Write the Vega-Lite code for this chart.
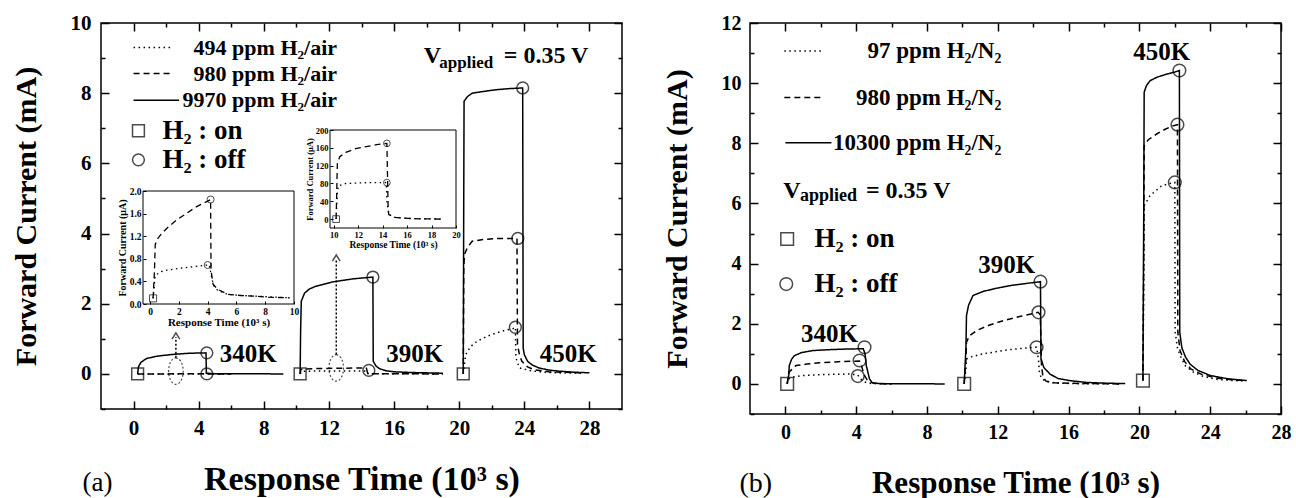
{
"$schema": "https://vega.github.io/schema/vega-lite/v6.json",
"padding": {"left": 10, "top": 11, "right": 5, "bottom": 2},
"spacing": 37,
"config": {
  "font": "Liberation Serif",
  "view": {"stroke": "black", "strokeWidth": 1.5},
  "axis": {"grid": false, "domainColor": "black", "domainWidth": 1.5, "tickColor": "black", "tickWidth": 1.5, "labelColor": "black", "titleColor": "black", "labelFont": "Liberation Serif", "titleFont": "Liberation Serif", "labelFontWeight": "bold", "titleFontWeight": "bold", "labelFlush": false, "labelOverlap": false},
  "text": {"font": "Liberation Serif", "fontWeight": "bold", "color": "black"}
},
"datasets": {
  "la": [
    {"s":"a340s","c":"solid","x":0.25,"y":0},{"s":"a340s","c":"solid","x":0.3,"y":0.2},{"s":"a340s","c":"solid","x":0.45,"y":0.33},{"s":"a340s","c":"solid","x":0.8,"y":0.44},{"s":"a340s","c":"solid","x":1.5,"y":0.51},{"s":"a340s","c":"solid","x":2.5,"y":0.56},{"s":"a340s","c":"solid","x":3.5,"y":0.59},{"s":"a340s","c":"solid","x":4.45,"y":0.6},{"s":"a340s","c":"solid","x":4.47,"y":0.02},{"s":"a340s","c":"solid","x":5,"y":0.005},{"s":"a340s","c":"solid","x":9.2,"y":0},
    {"s":"a340d","c":"dash","x":0.25,"y":0},{"s":"a340d","c":"dash","x":4.45,"y":0.002},{"s":"a340d","c":"dash","x":4.47,"y":0},{"s":"a340d","c":"dash","x":6,"y":0},
    {"s":"a340o","c":"dot","x":0.25,"y":0},{"s":"a340o","c":"dot","x":4.45,"y":0.001},{"s":"a340o","c":"dot","x":4.47,"y":0},{"s":"a340o","c":"dot","x":6,"y":0},
    {"s":"a390s","c":"solid","x":10.23,"y":0},{"s":"a390s","c":"solid","x":10.26,"y":1.2},{"s":"a390s","c":"solid","x":10.3,"y":2.07},{"s":"a390s","c":"solid","x":10.5,"y":2.3},{"s":"a390s","c":"solid","x":10.8,"y":2.42},{"s":"a390s","c":"solid","x":11.2,"y":2.5},{"s":"a390s","c":"solid","x":12.2,"y":2.62},{"s":"a390s","c":"solid","x":13.5,"y":2.71},{"s":"a390s","c":"solid","x":14.7,"y":2.76},{"s":"a390s","c":"solid","x":14.72,"y":0.36},{"s":"a390s","c":"solid","x":14.9,"y":0.22},{"s":"a390s","c":"solid","x":15.1,"y":0.15},{"s":"a390s","c":"solid","x":15.5,"y":0.09},{"s":"a390s","c":"solid","x":16,"y":0.06},{"s":"a390s","c":"solid","x":17,"y":0.04},{"s":"a390s","c":"solid","x":19,"y":0.02},
    {"s":"a390d","c":"dash","x":10.23,"y":0},{"s":"a390d","c":"dash","x":10.28,"y":0.13},{"s":"a390d","c":"dash","x":10.5,"y":0.14},{"s":"a390d","c":"dash","x":11,"y":0.15},{"s":"a390d","c":"dash","x":12.5,"y":0.16},{"s":"a390d","c":"dash","x":14.3,"y":0.17},{"s":"a390d","c":"dash","x":14.38,"y":0.01},{"s":"a390d","c":"dash","x":15,"y":0.004},{"s":"a390d","c":"dash","x":19,"y":0},
    {"s":"a390o","c":"dot","x":10.23,"y":0},{"s":"a390o","c":"dot","x":10.35,"y":0.075},{"s":"a390o","c":"dot","x":11,"y":0.08},{"s":"a390o","c":"dot","x":14.2,"y":0.082},{"s":"a390o","c":"dot","x":14.3,"y":0.01},{"s":"a390o","c":"dot","x":15,"y":0.004},{"s":"a390o","c":"dot","x":19,"y":0},
    {"s":"a450s","c":"solid","x":20.25,"y":0},{"s":"a450s","c":"solid","x":20.28,"y":5},{"s":"a450s","c":"solid","x":20.3,"y":7.77},{"s":"a450s","c":"solid","x":20.5,"y":7.9},{"s":"a450s","c":"solid","x":20.8,"y":8.0},{"s":"a450s","c":"solid","x":21.5,"y":8.05},{"s":"a450s","c":"solid","x":22.3,"y":8.1},{"s":"a450s","c":"solid","x":23.1,"y":8.13},{"s":"a450s","c":"solid","x":23.9,"y":8.15},{"s":"a450s","c":"solid","x":23.93,"y":0.74},{"s":"a450s","c":"solid","x":24.0,"y":0.55},{"s":"a450s","c":"solid","x":24.2,"y":0.36},{"s":"a450s","c":"solid","x":24.5,"y":0.25},{"s":"a450s","c":"solid","x":24.9,"y":0.17},{"s":"a450s","c":"solid","x":25.5,"y":0.11},{"s":"a450s","c":"solid","x":26.1,"y":0.08},{"s":"a450s","c":"solid","x":27,"y":0.05},{"s":"a450s","c":"solid","x":28,"y":0.03},
    {"s":"a450d","c":"dash","x":20.25,"y":0},{"s":"a450d","c":"dash","x":20.28,"y":3.0},{"s":"a450d","c":"dash","x":20.32,"y":3.4},{"s":"a450d","c":"dash","x":20.5,"y":3.6},{"s":"a450d","c":"dash","x":20.8,"y":3.78},{"s":"a450d","c":"dash","x":21.5,"y":3.83},{"s":"a450d","c":"dash","x":22.3,"y":3.86},{"s":"a450d","c":"dash","x":23.0,"y":3.86},{"s":"a450d","c":"dash","x":23.55,"y":3.86},{"s":"a450d","c":"dash","x":23.58,"y":0.84},{"s":"a450d","c":"dash","x":23.7,"y":0.55},{"s":"a450d","c":"dash","x":23.85,"y":0.36},{"s":"a450d","c":"dash","x":24.2,"y":0.2},{"s":"a450d","c":"dash","x":24.6,"y":0.12},{"s":"a450d","c":"dash","x":25.5,"y":0.06},{"s":"a450d","c":"dash","x":27.4,"y":0.03},
    {"s":"a450o","c":"dot","x":20.25,"y":0},{"s":"a450o","c":"dot","x":20.4,"y":0.55},{"s":"a450o","c":"dot","x":20.7,"y":0.78},{"s":"a450o","c":"dot","x":21.1,"y":0.93},{"s":"a450o","c":"dot","x":21.7,"y":1.07},{"s":"a450o","c":"dot","x":22.3,"y":1.17},{"s":"a450o","c":"dot","x":22.8,"y":1.24},{"s":"a450o","c":"dot","x":23.3,"y":1.29},{"s":"a450o","c":"dot","x":23.45,"y":1.33},{"s":"a450o","c":"dot","x":23.48,"y":0.46},{"s":"a450o","c":"dot","x":23.7,"y":0.17},{"s":"a450o","c":"dot","x":24.3,"y":0.1},{"s":"a450o","c":"dot","x":24.9,"y":0.06},{"s":"a450o","c":"dot","x":26,"y":0.03},{"s":"a450o","c":"dot","x":27.5,"y":0.02}
  ],
  "ma": [
    {"k":"on","x":0.25,"y":0},{"k":"on","x":10.23,"y":0},{"k":"on","x":20.25,"y":0},
    {"k":"off","x":4.5,"y":0.6},{"k":"off","x":4.5,"y":0},{"k":"off","x":14.7,"y":2.76},{"k":"off","x":14.45,"y":0.1},{"k":"off","x":23.9,"y":8.15},{"k":"off","x":23.6,"y":3.86},{"k":"off","x":23.45,"y":1.33},
    {"k":"on","x":0.3,"y":6.93},{"k":"off","x":0.3,"y":6.1}
  ],
  "i1": [
    {"s":"d","c":"dash","x":0.2,"y":0.1},{"s":"d","c":"dash","x":0.3,"y":0.6},{"s":"d","c":"dash","x":0.35,"y":1.05},{"s":"d","c":"dash","x":0.5,"y":1.15},{"s":"d","c":"dash","x":0.8,"y":1.25},{"s":"d","c":"dash","x":1.2,"y":1.35},{"s":"d","c":"dash","x":1.8,"y":1.48},{"s":"d","c":"dash","x":2.5,"y":1.6},{"s":"d","c":"dash","x":3.2,"y":1.72},{"s":"d","c":"dash","x":4.0,"y":1.82},{"s":"d","c":"dash","x":4.2,"y":1.85},{"s":"d","c":"dash","x":4.23,"y":0.6},{"s":"d","c":"dash","x":4.37,"y":0.35},{"s":"d","c":"dash","x":4.7,"y":0.26},{"s":"d","c":"dash","x":5.4,"y":0.17},{"s":"d","c":"dash","x":6.35,"y":0.15},{"s":"d","c":"dash","x":7.2,"y":0.14},{"s":"d","c":"dash","x":8.2,"y":0.12},{"s":"d","c":"dash","x":9.7,"y":0.11},
    {"s":"o","c":"dot","x":0.2,"y":0.1},{"s":"o","c":"dot","x":0.28,"y":0.3},{"s":"o","c":"dot","x":0.35,"y":0.5},{"s":"o","c":"dot","x":0.7,"y":0.57},{"s":"o","c":"dot","x":1.2,"y":0.6},{"s":"o","c":"dot","x":2.0,"y":0.63},{"s":"o","c":"dot","x":3.0,"y":0.66},{"s":"o","c":"dot","x":4.0,"y":0.69},{"s":"o","c":"dot","x":4.1,"y":0.7},{"s":"o","c":"dot","x":4.25,"y":0.5},{"s":"o","c":"dot","x":4.4,"y":0.33},{"s":"o","c":"dot","x":4.7,"y":0.24},{"s":"o","c":"dot","x":5.4,"y":0.17},{"s":"o","c":"dot","x":6.4,"y":0.15},{"s":"o","c":"dot","x":8,"y":0.13},{"s":"o","c":"dot","x":9.7,"y":0.11}
  ],
  "m1": [{"k":"on","x":0.2,"y":0.1},{"k":"off","x":4.2,"y":1.85},{"k":"off","x":4.0,"y":0.69}],
  "i2": [
    {"s":"d","c":"dash","x":10.2,"y":0},{"s":"d","c":"dash","x":10.25,"y":60},{"s":"d","c":"dash","x":10.3,"y":125},{"s":"d","c":"dash","x":10.5,"y":140},{"s":"d","c":"dash","x":11,"y":150},{"s":"d","c":"dash","x":11.8,"y":158},{"s":"d","c":"dash","x":12.5,"y":162},{"s":"d","c":"dash","x":13.5,"y":167},{"s":"d","c":"dash","x":14.35,"y":170},{"s":"d","c":"dash","x":14.4,"y":100},{"s":"d","c":"dash","x":14.45,"y":30},{"s":"d","c":"dash","x":14.5,"y":10},{"s":"d","c":"dash","x":14.8,"y":7},{"s":"d","c":"dash","x":15.0,"y":4},{"s":"d","c":"dash","x":15.5,"y":2.5},{"s":"d","c":"dash","x":16.1,"y":1.5},{"s":"d","c":"dash","x":17,"y":0.5},{"s":"d","c":"dash","x":19,"y":0},
    {"s":"o","c":"dot","x":10.2,"y":0},{"s":"o","c":"dot","x":10.3,"y":60},{"s":"o","c":"dot","x":10.4,"y":75},{"s":"o","c":"dot","x":11,"y":80},{"s":"o","c":"dot","x":12,"y":81},{"s":"o","c":"dot","x":13,"y":82},{"s":"o","c":"dot","x":14.3,"y":82},{"s":"o","c":"dot","x":14.35,"y":40},{"s":"o","c":"dot","x":14.5,"y":10},{"s":"o","c":"dot","x":15,"y":4},{"s":"o","c":"dot","x":16,"y":1.5},{"s":"o","c":"dot","x":19,"y":0}
  ],
  "m2": [{"k":"on","x":10.2,"y":0},{"k":"off","x":14.35,"y":170},{"k":"off","x":14.35,"y":82}],
  "lb": [
    {"s":"b340s","c":"solid","x":0.1,"y":0},{"s":"b340s","c":"solid","x":0.19,"y":0.3},{"s":"b340s","c":"solid","x":0.22,"y":0.61},{"s":"b340s","c":"solid","x":0.35,"y":0.82},{"s":"b340s","c":"solid","x":0.51,"y":0.94},{"s":"b340s","c":"solid","x":0.9,"y":1.04},{"s":"b340s","c":"solid","x":1.55,"y":1.11},{"s":"b340s","c":"solid","x":2.5,"y":1.14},{"s":"b340s","c":"solid","x":3.5,"y":1.16},{"s":"b340s","c":"solid","x":4.4,"y":1.17},{"s":"b340s","c":"solid","x":4.5,"y":1.0},{"s":"b340s","c":"solid","x":4.57,"y":0.61},{"s":"b340s","c":"solid","x":4.75,"y":0.17},{"s":"b340s","c":"solid","x":4.9,"y":0.04},{"s":"b340s","c":"solid","x":5.3,"y":0.01},{"s":"b340s","c":"solid","x":9.0,"y":0},
    {"s":"b340d","c":"dash","x":0.1,"y":0},{"s":"b340d","c":"dash","x":0.2,"y":0.39},{"s":"b340d","c":"dash","x":0.6,"y":0.61},{"s":"b340d","c":"dash","x":1.2,"y":0.66},{"s":"b340d","c":"dash","x":1.92,"y":0.7},{"s":"b340d","c":"dash","x":3.0,"y":0.74},{"s":"b340d","c":"dash","x":4.19,"y":0.76},{"s":"b340d","c":"dash","x":4.3,"y":0.6},{"s":"b340d","c":"dash","x":4.45,"y":0.3},{"s":"b340d","c":"dash","x":4.65,"y":0.1},{"s":"b340d","c":"dash","x":5.0,"y":0.02},{"s":"b340d","c":"dash","x":6,"y":0},
    {"s":"b340o","c":"dot","x":0.1,"y":0},{"s":"b340o","c":"dot","x":0.2,"y":0.17},{"s":"b340o","c":"dot","x":0.5,"y":0.24},{"s":"b340o","c":"dot","x":0.98,"y":0.28},{"s":"b340o","c":"dot","x":2.0,"y":0.31},{"s":"b340o","c":"dot","x":3.62,"y":0.33},{"s":"b340o","c":"dot","x":4.09,"y":0.3},{"s":"b340o","c":"dot","x":4.2,"y":0.2},{"s":"b340o","c":"dot","x":4.4,"y":0.08},{"s":"b340o","c":"dot","x":4.7,"y":0.02},{"s":"b340o","c":"dot","x":6,"y":0},
    {"s":"b390s","c":"solid","x":10.1,"y":0},{"s":"b390s","c":"solid","x":10.2,"y":1.2},{"s":"b390s","c":"solid","x":10.23,"y":2.27},{"s":"b390s","c":"solid","x":10.35,"y":2.62},{"s":"b390s","c":"solid","x":10.6,"y":2.94},{"s":"b390s","c":"solid","x":11.2,"y":3.08},{"s":"b390s","c":"solid","x":11.92,"y":3.18},{"s":"b390s","c":"solid","x":12.8,"y":3.28},{"s":"b390s","c":"solid","x":13.6,"y":3.34},{"s":"b390s","c":"solid","x":14.41,"y":3.4},{"s":"b390s","c":"solid","x":14.44,"y":0.83},{"s":"b390s","c":"solid","x":14.6,"y":0.55},{"s":"b390s","c":"solid","x":14.94,"y":0.33},{"s":"b390s","c":"solid","x":15.4,"y":0.18},{"s":"b390s","c":"solid","x":16.07,"y":0.11},{"s":"b390s","c":"solid","x":17.0,"y":0.05},{"s":"b390s","c":"solid","x":17.8,"y":0.03},{"s":"b390s","c":"solid","x":19.2,"y":0.01},
    {"s":"b390d","c":"dash","x":10.1,"y":0},{"s":"b390d","c":"dash","x":10.2,"y":0.8},{"s":"b390d","c":"dash","x":10.23,"y":1.39},{"s":"b390d","c":"dash","x":10.4,"y":1.6},{"s":"b390d","c":"dash","x":10.79,"y":1.77},{"s":"b390d","c":"dash","x":11.5,"y":1.95},{"s":"b390d","c":"dash","x":12.3,"y":2.1},{"s":"b390d","c":"dash","x":13.3,"y":2.25},{"s":"b390d","c":"dash","x":14.28,"y":2.38},{"s":"b390d","c":"dash","x":14.4,"y":2.3},{"s":"b390d","c":"dash","x":14.47,"y":0.6},{"s":"b390d","c":"dash","x":14.55,"y":0.25},{"s":"b390d","c":"dash","x":14.7,"y":0.1},{"s":"b390d","c":"dash","x":15.2,"y":0.04},{"s":"b390d","c":"dash","x":16,"y":0.02},{"s":"b390d","c":"dash","x":19,"y":0},
    {"s":"b390o","c":"dot","x":10.1,"y":0},{"s":"b390o","c":"dot","x":10.2,"y":0.5},{"s":"b390o","c":"dot","x":10.23,"y":0.83},{"s":"b390o","c":"dot","x":10.5,"y":0.9},{"s":"b390o","c":"dot","x":11.17,"y":1.0},{"s":"b390o","c":"dot","x":12.0,"y":1.08},{"s":"b390o","c":"dot","x":12.68,"y":1.14},{"s":"b390o","c":"dot","x":13.5,"y":1.19},{"s":"b390o","c":"dot","x":14.19,"y":1.22},{"s":"b390o","c":"dot","x":14.3,"y":0.8},{"s":"b390o","c":"dot","x":14.35,"y":0.4},{"s":"b390o","c":"dot","x":14.45,"y":0.2},{"s":"b390o","c":"dot","x":14.7,"y":0.08},{"s":"b390o","c":"dot","x":15.2,"y":0.03},{"s":"b390o","c":"dot","x":16.5,"y":0.01},{"s":"b390o","c":"dot","x":19,"y":0},
    {"s":"b450s","c":"solid","x":20.2,"y":0.11},{"s":"b450s","c":"solid","x":20.24,"y":5},{"s":"b450s","c":"solid","x":20.27,"y":9.7},{"s":"b450s","c":"solid","x":20.4,"y":9.92},{"s":"b450s","c":"solid","x":20.6,"y":10.08},{"s":"b450s","c":"solid","x":21.0,"y":10.2},{"s":"b450s","c":"solid","x":21.55,"y":10.3},{"s":"b450s","c":"solid","x":22.0,"y":10.37},{"s":"b450s","c":"solid","x":22.26,"y":10.42},{"s":"b450s","c":"solid","x":22.28,"y":1.72},{"s":"b450s","c":"solid","x":22.4,"y":1.2},{"s":"b450s","c":"solid","x":22.6,"y":0.9},{"s":"b450s","c":"solid","x":22.86,"y":0.66},{"s":"b450s","c":"solid","x":23.3,"y":0.45},{"s":"b450s","c":"solid","x":24.0,"y":0.28},{"s":"b450s","c":"solid","x":25.0,"y":0.17},{"s":"b450s","c":"solid","x":26.07,"y":0.11},
    {"s":"b450d","c":"dash","x":20.2,"y":0.11},{"s":"b450d","c":"dash","x":20.24,"y":4},{"s":"b450d","c":"dash","x":20.27,"y":7.92},{"s":"b450d","c":"dash","x":20.5,"y":8.12},{"s":"b450d","c":"dash","x":20.98,"y":8.31},{"s":"b450d","c":"dash","x":21.4,"y":8.45},{"s":"b450d","c":"dash","x":21.83,"y":8.57},{"s":"b450d","c":"dash","x":22.15,"y":8.62},{"s":"b450d","c":"dash","x":22.17,"y":1.72},{"s":"b450d","c":"dash","x":22.3,"y":1.1},{"s":"b450d","c":"dash","x":22.55,"y":0.75},{"s":"b450d","c":"dash","x":22.9,"y":0.5},{"s":"b450d","c":"dash","x":23.5,"y":0.32},{"s":"b450d","c":"dash","x":24.3,"y":0.2},{"s":"b450d","c":"dash","x":25.2,"y":0.14},{"s":"b450d","c":"dash","x":26.0,"y":0.1},
    {"s":"b450o","c":"dot","x":20.2,"y":0.11},{"s":"b450o","c":"dot","x":20.24,"y":3},{"s":"b450o","c":"dot","x":20.27,"y":5.93},{"s":"b450o","c":"dot","x":20.6,"y":6.26},{"s":"b450o","c":"dot","x":21.26,"y":6.59},{"s":"b450o","c":"dot","x":21.7,"y":6.66},{"s":"b450o","c":"dot","x":22.0,"y":6.7},{"s":"b450o","c":"dot","x":22.02,"y":1.72},{"s":"b450o","c":"dot","x":22.15,"y":1.2},{"s":"b450o","c":"dot","x":22.3,"y":0.94},{"s":"b450o","c":"dot","x":22.6,"y":0.6},{"s":"b450o","c":"dot","x":23.05,"y":0.39},{"s":"b450o","c":"dot","x":23.6,"y":0.25},{"s":"b450o","c":"dot","x":24.4,"y":0.15},{"s":"b450o","c":"dot","x":25.3,"y":0.11},{"s":"b450o","c":"dot","x":26.0,"y":0.1}
  ],
  "mb": [
    {"k":"on","x":0.1,"y":0},{"k":"on","x":10.1,"y":0},{"k":"on","x":20.2,"y":0.11},
    {"k":"off","x":4.47,"y":1.22},{"k":"off","x":4.19,"y":0.78},{"k":"off","x":4.09,"y":0.26},{"k":"off","x":14.41,"y":3.4},{"k":"off","x":14.3,"y":2.38},{"k":"off","x":14.19,"y":1.22},{"k":"off","x":22.26,"y":10.42},{"k":"off","x":22.15,"y":8.62},{"k":"off","x":22.0,"y":6.7},
    {"k":"on","x":0.1,"y":4.82},{"k":"off","x":0.05,"y":3.32}
  ]
},
"hconcat": [
  {
    "width": 521, "height": 386,
    "resolve": {"scale": {"x": "independent", "y": "independent"}, "axis": {"x": "independent", "y": "independent"}},
    "layer": [
      {
        "resolve": {"axis": {"x": "independent", "y": "independent"}},
        "layer": [
          {"data": {"name": "la"}, "mark": {"type": "line", "color": "black", "strokeWidth": 1.5},
           "encoding": {
             "x": {"field": "x", "type": "quantitative", "scale": {"domain": [-2, 30], "nice": false, "zero": false}, "axis": {"orient": "bottom", "values": [0,4,8,12,16,20,24,28], "tickSize": -8, "labelPadding": 16, "labelFontSize": 21, "title": "Response Time (10³ s)", "titleFontSize": 34, "titlePadding": 24, "domain": false}},
             "y": {"field": "y", "type": "quantitative", "scale": {"domain": [-1, 10], "nice": false, "zero": false}, "axis": {"orient": "left", "values": [0,2,4,6,8,10], "tickSize": -8, "labelPadding": 18, "labelFontSize": 21, "title": "Forward Current (mA)", "titleFontSize": 30, "titlePadding": 29, "domain": false}},
             "detail": {"field": "s"},
             "strokeDash": {"field": "c", "type": "nominal", "scale": {"domain": ["dot", "dash", "solid"], "range": [[1.5, 3.5], [6, 4], [1, 0]]}, "legend": null}
           }},
          {"data": {"name": "ma"}, "mark": {"type": "point", "filled": false, "stroke": "black", "strokeWidth": 1.5, "size": 140},
           "encoding": {
             "x": {"field": "x", "type": "quantitative", "scale": {"domain": [-2, 30], "nice": false, "zero": false}, "axis": {"orient": "bottom", "values": [2,6,10,14,18,22,26], "tickSize": -4, "labels": false, "domain": false, "title": null}},
             "y": {"field": "y", "type": "quantitative", "scale": {"domain": [-1, 10], "nice": false, "zero": false}, "axis": {"orient": "left", "values": [-1,1,3,5,7,9], "tickSize": -4, "labels": false, "domain": false, "title": null}},
             "shape": {"field": "k", "type": "nominal", "scale": {"domain": ["on", "off"], "range": ["square", "circle"]}, "legend": null}
           }},
          {"data": {"values": [{"t": "340K", "x": 7.04, "y": 0.57}, {"t": "390K", "x": 17.27, "y": 0.57}, {"t": "450K", "x": 26.7, "y": 0.57}]},
           "mark": {"type": "text", "font": "Liberation Serif", "fontSize": 25, "align": "center", "baseline": "middle"},
           "encoding": {
             "x": {"field": "x", "type": "quantitative", "scale": {"domain": [-2, 30], "nice": false, "zero": false}, "axis": {"orient": "top", "values": [0,4,8,12,16,20,24,28], "tickSize": -8, "labels": false, "domain": false, "title": null}},
             "y": {"field": "y", "type": "quantitative", "scale": {"domain": [-1, 10], "nice": false, "zero": false}, "axis": {"orient": "right", "values": [0,2,4,6,8,10], "tickSize": -8, "labels": false, "domain": false, "title": null}},
             "text": {"field": "t"}
           }},
          {"data": {"values": [{"c": "dot", "x": 0, "x2": 2.4, "y": 9.3}, {"c": "dash", "x": 0, "x2": 2.4, "y": 8.56}, {"c": "solid", "x": 0, "x2": 2.8, "y": 7.8}]},
           "mark": {"type": "rule", "color": "black", "strokeWidth": 1.5},
           "encoding": {
             "x": {"field": "x", "type": "quantitative", "scale": {"domain": [-2, 30], "nice": false, "zero": false}, "axis": {"orient": "top", "values": [2,6,10,14,18,22,26], "tickSize": -4, "labels": false, "domain": false, "title": null}},
             "x2": {"field": "x2"},
             "y": {"field": "y", "type": "quantitative", "scale": {"domain": [-1, 10], "nice": false, "zero": false}, "axis": {"orient": "right", "values": [-1,1,3,5,7,9], "tickSize": -4, "labels": false, "domain": false, "title": null}},
             "strokeDash": {"field": "c", "type": "nominal", "scale": {"domain": ["dot", "dash", "solid"], "range": [[1.5, 3.5], [6, 4], [1, 0]]}, "legend": null}
           }},
          {"data": {"values": [{"t": "494 ppm H₂/air", "x": 12.5, "y": 9.3}, {"t": "980 ppm H₂/air", "x": 12.5, "y": 8.56}, {"t": "9970 ppm H₂/air", "x": 12.5, "y": 7.8}]},
           "mark": {"type": "text", "font": "Liberation Serif", "fontSize": 22, "align": "right", "baseline": "middle"},
           "encoding": {
             "x": {"field": "x", "type": "quantitative", "scale": {"domain": [-2, 30], "nice": false, "zero": false}, "axis": null},
             "y": {"field": "y", "type": "quantitative", "scale": {"domain": [-1, 10], "nice": false, "zero": false}, "axis": null},
             "text": {"field": "t"}
           }},
          {"data": {"values": [{"t": "H₂ : on", "x": 1.77, "y": 6.93}, {"t": "H₂ : off", "x": 1.77, "y": 6.1}]},
           "mark": {"type": "text", "font": "Liberation Serif", "fontSize": 27, "align": "left", "baseline": "middle"},
           "encoding": {
             "x": {"field": "x", "type": "quantitative", "scale": {"domain": [-2, 30], "nice": false, "zero": false}, "axis": null},
             "y": {"field": "y", "type": "quantitative", "scale": {"domain": [-1, 10], "nice": false, "zero": false}, "axis": null},
             "text": {"field": "t"}
           }},
          {"data": {"values": [{"t": "V", "x": 17.82, "y": 9.05}, {"t": "= 0.35 V", "x": 22.74, "y": 9.05}]},
           "mark": {"type": "text", "font": "Liberation Serif", "fontSize": 24, "align": "left", "baseline": "middle"},
           "encoding": {
             "x": {"field": "x", "type": "quantitative", "scale": {"domain": [-2, 30], "nice": false, "zero": false}, "axis": null},
             "y": {"field": "y", "type": "quantitative", "scale": {"domain": [-1, 10], "nice": false, "zero": false}, "axis": null},
             "text": {"field": "t"}
           }},
          {"data": {"values": [{"t": "applied", "x": 18.78, "y": 8.85}]},
           "mark": {"type": "text", "font": "Liberation Serif", "fontSize": 17, "align": "left", "baseline": "middle"},
           "encoding": {
             "x": {"field": "x", "type": "quantitative", "scale": {"domain": [-2, 30], "nice": false, "zero": false}, "axis": null},
             "y": {"field": "y", "type": "quantitative", "scale": {"domain": [-1, 10], "nice": false, "zero": false}, "axis": null},
             "text": {"field": "t"}
           }},
          {"data": {"values": [{"x": 2.6, "y": 0.08}, {"x": 12.45, "y": 0.17}]},
           "mark": {"type": "point", "shape": "M0,-1A0.55,1,0,1,1,0,1A0.55,1,0,1,1,0,-1Z", "size": 700, "filled": false, "stroke": "black", "strokeWidth": 1.2, "strokeDash": [2, 2]},
           "encoding": {
             "x": {"field": "x", "type": "quantitative", "scale": {"domain": [-2, 30], "nice": false, "zero": false}, "axis": null},
             "y": {"field": "y", "type": "quantitative", "scale": {"domain": [-1, 10], "nice": false, "zero": false}, "axis": null}
           }},
          {"data": {"values": [{"x": 2.6, "y": 0.46, "y2": 1.05}, {"x": 12.45, "y": 0.55, "y2": 3.25}]},
           "mark": {"type": "rule", "color": "black", "strokeWidth": 1.5, "strokeDash": [2, 2]},
           "encoding": {
             "x": {"field": "x", "type": "quantitative", "scale": {"domain": [-2, 30], "nice": false, "zero": false}, "axis": null},
             "y": {"field": "y", "type": "quantitative", "scale": {"domain": [-1, 10], "nice": false, "zero": false}, "axis": null},
             "y2": {"field": "y2"}
           }},
          {"data": {"values": [{"x": 2.6, "y": 1.08}, {"x": 12.45, "y": 3.3}]},
           "mark": {"type": "point", "shape": "M-1,0.8L0,-0.8L1,0.8", "size": 60, "filled": false, "stroke": "black", "strokeWidth": 1.5},
           "encoding": {
             "x": {"field": "x", "type": "quantitative", "scale": {"domain": [-2, 30], "nice": false, "zero": false}, "axis": null},
             "y": {"field": "y", "type": "quantitative", "scale": {"domain": [-1, 10], "nice": false, "zero": false}, "axis": null}
           }},
          {"data": {"values": [{"t": "(a)", "x": -2.21, "y": -3.1}]},
           "mark": {"type": "text", "font": "Liberation Serif", "fontSize": 27, "fontWeight": "normal", "align": "center", "baseline": "middle"},
           "encoding": {
             "x": {"field": "x", "type": "quantitative", "scale": {"domain": [-2, 30], "nice": false, "zero": false}, "axis": null},
             "y": {"field": "y", "type": "quantitative", "scale": {"domain": [-1, 10], "nice": false, "zero": false}, "axis": null},
             "text": {"field": "t"}
           }}
        ]
      },
      {"data": {"values": [{"x": -0.5, "x2": 10, "y": 0, "y2": 2}]},
       "mark": {"type": "rect", "fill": "transparent", "stroke": "black", "strokeWidth": 1},
       "encoding": {
         "x": {"field": "x", "type": "quantitative", "scale": {"domain": [-0.5, 10], "range": [42, 193], "nice": false, "zero": false}, "axis": null},
         "x2": {"field": "x2"},
         "y": {"field": "y", "type": "quantitative", "scale": {"domain": [0, 2], "range": [281, 168], "nice": false, "zero": false}, "axis": null},
         "y2": {"field": "y2"}
       }},
      {"data": {"name": "i1"}, "mark": {"type": "line", "color": "black", "strokeWidth": 1.3},
       "encoding": {
         "x": {"field": "x", "type": "quantitative", "scale": {"domain": [-0.5, 10], "range": [42, 193], "nice": false, "zero": false}, "axis": {"orient": "bottom", "offset": -105, "zindex": 1, "values": [0,2,4,6,8,10], "tickSize": -3, "tickWidth": 1, "labelPadding": 5, "labelFontSize": 9.5, "title": "Response Time (10³ s)", "titleFontSize": 11, "titlePadding": 1, "domain": false}},
         "y": {"field": "y", "type": "quantitative", "scale": {"domain": [0, 2], "range": [281, 168], "nice": false, "zero": false}, "axis": {"orient": "left", "offset": -42, "zindex": 1, "values": [0,0.4,0.8,1.2,1.6,2], "format": ".1f", "tickSize": -3, "tickWidth": 1, "labelPadding": 5, "labelFontSize": 9.5, "title": "Forward Current (μA)", "titleFontSize": 10, "titlePadding": 2, "domain": false}},
         "detail": {"field": "s"},
         "strokeDash": {"field": "c", "type": "nominal", "scale": {"domain": ["dot", "dash", "solid"], "range": [[1.5, 3.5], [6, 4], [1, 0]]}, "legend": null}
       }},
      {"data": {"name": "m1"}, "mark": {"type": "point", "filled": false, "stroke": "black", "strokeWidth": 1, "size": 50},
       "encoding": {
         "x": {"field": "x", "type": "quantitative", "scale": {"domain": [-0.5, 10], "range": [42, 193], "nice": false, "zero": false}, "axis": null},
         "y": {"field": "y", "type": "quantitative", "scale": {"domain": [0, 2], "range": [281, 168], "nice": false, "zero": false}, "axis": null},
         "shape": {"field": "k", "type": "nominal", "scale": {"domain": ["on", "off"], "range": ["square", "circle"]}, "legend": null}
       }},
      {"data": {"values": [{"x": 9.7, "x2": 20, "y": -20, "y2": 200}]},
       "mark": {"type": "rect", "fill": "transparent", "stroke": "black", "strokeWidth": 1},
       "encoding": {
         "x": {"field": "x", "type": "quantitative", "scale": {"domain": [9.7, 20], "range": [229, 355], "nice": false, "zero": false}, "axis": null},
         "x2": {"field": "x2"},
         "y": {"field": "y", "type": "quantitative", "scale": {"domain": [-20, 200], "range": [205, 107], "nice": false, "zero": false}, "axis": null},
         "y2": {"field": "y2"}
       }},
      {"data": {"name": "i2"}, "mark": {"type": "line", "color": "black", "strokeWidth": 1.3},
       "encoding": {
         "x": {"field": "x", "type": "quantitative", "scale": {"domain": [9.7, 20], "range": [229, 355], "nice": false, "zero": false}, "axis": {"orient": "bottom", "offset": -181, "zindex": 1, "values": [10,12,14,16,18,20], "tickSize": -3, "tickWidth": 1, "labelPadding": 5, "labelFontSize": 8.5, "title": "Response Time (10³ s)", "titleFontSize": 9.5, "titlePadding": 1, "domain": false}},
         "y": {"field": "y", "type": "quantitative", "scale": {"domain": [-20, 200], "range": [205, 107], "nice": false, "zero": false}, "axis": {"orient": "left", "offset": -229, "zindex": 1, "values": [0,40,80,120,160,200], "tickSize": -3, "tickWidth": 1, "labelPadding": 5, "labelFontSize": 8.5, "title": "Forward Current (μA)", "titleFontSize": 8.5, "titlePadding": 1, "domain": false}},
         "detail": {"field": "s"},
         "strokeDash": {"field": "c", "type": "nominal", "scale": {"domain": ["dot", "dash", "solid"], "range": [[1.5, 3.5], [6, 4], [1, 0]]}, "legend": null}
       }},
      {"data": {"name": "m2"}, "mark": {"type": "point", "filled": false, "stroke": "black", "strokeWidth": 1, "size": 45},
       "encoding": {
         "x": {"field": "x", "type": "quantitative", "scale": {"domain": [9.7, 20], "range": [229, 355], "nice": false, "zero": false}, "axis": null},
         "y": {"field": "y", "type": "quantitative", "scale": {"domain": [-20, 200], "range": [205, 107], "nice": false, "zero": false}, "axis": null},
         "shape": {"field": "k", "type": "nominal", "scale": {"domain": ["on", "off"], "range": ["square", "circle"]}, "legend": null}
       }}
    ]
  },
  {
    "width": 531, "height": 391,
    "resolve": {"axis": {"x": "independent", "y": "independent"}},
    "layer": [
      {"data": {"name": "lb"}, "mark": {"type": "line", "color": "black", "strokeWidth": 1.5},
       "encoding": {
         "x": {"field": "x", "type": "quantitative", "scale": {"domain": [-2, 28], "nice": false, "zero": false}, "axis": {"orient": "bottom", "values": [0,4,8,12,16,20,24,28], "tickSize": -8, "labelPadding": 16, "labelFontSize": 20, "title": "Response Time (10³ s)", "titleFontSize": 31, "titlePadding": 26, "domain": false}},
         "y": {"field": "y", "type": "quantitative", "scale": {"domain": [-1, 12], "nice": false, "zero": false}, "axis": {"orient": "left", "values": [0,2,4,6,8,10,12], "tickSize": -8, "labelPadding": 17, "labelFontSize": 20, "title": "Forward Current (mA)", "titleFontSize": 30, "titlePadding": 29, "domain": false}},
         "detail": {"field": "s"},
         "strokeDash": {"field": "c", "type": "nominal", "scale": {"domain": ["dot", "dash", "solid"], "range": [[1.5, 3.5], [6, 4], [1, 0]]}, "legend": null}
       }},
      {"data": {"name": "mb"}, "mark": {"type": "point", "filled": false, "stroke": "black", "strokeWidth": 1.5, "size": 160},
       "encoding": {
         "x": {"field": "x", "type": "quantitative", "scale": {"domain": [-2, 28], "nice": false, "zero": false}, "axis": {"orient": "bottom", "values": [2,6,10,14,18,22,26], "tickSize": -4, "labels": false, "domain": false, "title": null}},
         "y": {"field": "y", "type": "quantitative", "scale": {"domain": [-1, 12], "nice": false, "zero": false}, "axis": {"orient": "left", "values": [-1,1,3,5,7,9,11], "tickSize": -4, "labels": false, "domain": false, "title": null}},
         "shape": {"field": "k", "type": "nominal", "scale": {"domain": ["on", "off"], "range": ["square", "circle"]}, "legend": null}
       }},
      {"data": {"values": [{"t": "340K", "x": 2.49, "y": 1.65}, {"t": "390K", "x": 12.5, "y": 3.95}, {"t": "450K", "x": 21.26, "y": 11.05}]},
       "mark": {"type": "text", "font": "Liberation Serif", "fontSize": 25, "align": "center", "baseline": "middle"},
       "encoding": {
         "x": {"field": "x", "type": "quantitative", "scale": {"domain": [-2, 28], "nice": false, "zero": false}, "axis": {"orient": "top", "values": [0,4,8,12,16,20,24,28], "tickSize": -8, "labels": false, "domain": false, "title": null}},
         "y": {"field": "y", "type": "quantitative", "scale": {"domain": [-1, 12], "nice": false, "zero": false}, "axis": {"orient": "right", "values": [0,2,4,6,8,10,12], "tickSize": -8, "labels": false, "domain": false, "title": null}},
         "text": {"field": "t"}
       }},
      {"data": {"values": [{"c": "dot", "x": -0.06, "x2": 2.2, "y": 11.07}, {"c": "dash", "x": -0.06, "x2": 2.2, "y": 9.52}, {"c": "solid", "x": 0, "x2": 2.6, "y": 8.02}]},
       "mark": {"type": "rule", "color": "black", "strokeWidth": 1.5},
       "encoding": {
         "x": {"field": "x", "type": "quantitative", "scale": {"domain": [-2, 28], "nice": false, "zero": false}, "axis": {"orient": "top", "values": [2,6,10,14,18,22,26], "tickSize": -4, "labels": false, "domain": false, "title": null}},
         "x2": {"field": "x2"},
         "y": {"field": "y", "type": "quantitative", "scale": {"domain": [-1, 12], "nice": false, "zero": false}, "axis": {"orient": "right", "values": [-1,1,3,5,7,9,11], "tickSize": -4, "labels": false, "domain": false, "title": null}},
         "strokeDash": {"field": "c", "type": "nominal", "scale": {"domain": ["dot", "dash", "solid"], "range": [[1.5, 3.5], [6, 4], [1, 0]]}, "legend": null}
       }},
      {"data": {"values": [{"t": "97 ppm H₂/N₂", "x": 12.2, "y": 11.07}, {"t": "980 ppm H₂/N₂", "x": 12.2, "y": 9.52}, {"t": "10300 ppm H₂/N₂", "x": 12.2, "y": 8.02}]},
       "mark": {"type": "text", "font": "Liberation Serif", "fontSize": 23, "align": "right", "baseline": "middle"},
       "encoding": {
         "x": {"field": "x", "type": "quantitative", "scale": {"domain": [-2, 28], "nice": false, "zero": false}, "axis": null},
         "y": {"field": "y", "type": "quantitative", "scale": {"domain": [-1, 12], "nice": false, "zero": false}, "axis": null},
         "text": {"field": "t"}
       }},
      {"data": {"values": [{"t": "H₂ : on", "x": 1.64, "y": 4.82}, {"t": "H₂ : off", "x": 1.64, "y": 3.32}]},
       "mark": {"type": "text", "font": "Liberation Serif", "fontSize": 27, "align": "left", "baseline": "middle"},
       "encoding": {
         "x": {"field": "x", "type": "quantitative", "scale": {"domain": [-2, 28], "nice": false, "zero": false}, "axis": null},
         "y": {"field": "y", "type": "quantitative", "scale": {"domain": [-1, 12], "nice": false, "zero": false}, "axis": null},
         "text": {"field": "t"}
       }},
      {"data": {"values": [{"t": "V", "x": -0.12, "y": 6.43}, {"t": "= 0.35 V", "x": 4.55, "y": 6.43}]},
       "mark": {"type": "text", "font": "Liberation Serif", "fontSize": 24, "align": "left", "baseline": "middle"},
       "encoding": {
         "x": {"field": "x", "type": "quantitative", "scale": {"domain": [-2, 28], "nice": false, "zero": false}, "axis": null},
         "y": {"field": "y", "type": "quantitative", "scale": {"domain": [-1, 12], "nice": false, "zero": false}, "axis": null},
         "text": {"field": "t"}
       }},
      {"data": {"values": [{"t": "applied", "x": 0.83, "y": 6.25}]},
       "mark": {"type": "text", "font": "Liberation Serif", "fontSize": 18, "align": "left", "baseline": "middle"},
       "encoding": {
         "x": {"field": "x", "type": "quantitative", "scale": {"domain": [-2, 28], "nice": false, "zero": false}, "axis": null},
         "y": {"field": "y", "type": "quantitative", "scale": {"domain": [-1, 12], "nice": false, "zero": false}, "axis": null},
         "text": {"field": "t"}
       }},
      {"data": {"values": [{"t": "(b)", "x": -1.67, "y": -3.32}]},
       "mark": {"type": "text", "font": "Liberation Serif", "fontSize": 28, "fontWeight": "normal", "align": "center", "baseline": "middle"},
       "encoding": {
         "x": {"field": "x", "type": "quantitative", "scale": {"domain": [-2, 28], "nice": false, "zero": false}, "axis": null},
         "y": {"field": "y", "type": "quantitative", "scale": {"domain": [-1, 12], "nice": false, "zero": false}, "axis": null},
         "text": {"field": "t"}
       }}
    ]
  }
]
}
